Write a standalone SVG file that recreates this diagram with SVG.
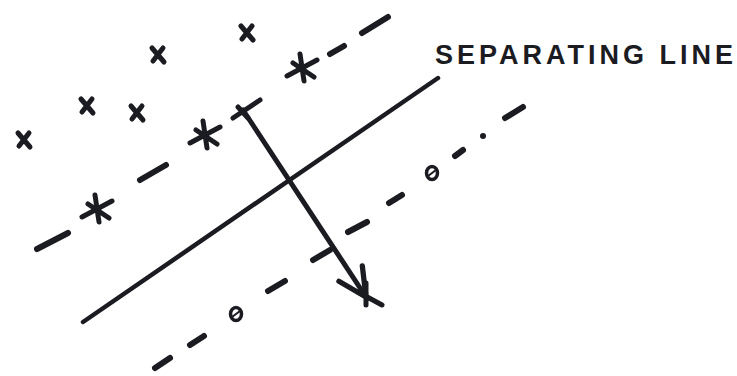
<svg xmlns="http://www.w3.org/2000/svg" width="737" height="376" viewBox="0 0 737 376">
<defs>
<style>
.ink{stroke:#1b1b22;fill:none;stroke-linecap:round;stroke-linejoin:round}
.dash{stroke-width:6}
.solid{stroke-width:4.5}
.arr{stroke-width:5}
.mk{stroke-width:5}
.ast{stroke-width:5}
.lbl{font-family:"Liberation Sans",Arial,sans-serif;font-weight:bold;font-size:27px;fill:#1b1b22}
</style>
<marker id="head" viewBox="0 0 20 20" refX="18" refY="10" markerWidth="7" markerHeight="7" markerUnits="strokeWidth" orient="auto">
<path d="M2,2 L18,10 L2,18" fill="none" stroke="#1b1b22" stroke-width="3" stroke-linecap="round" stroke-linejoin="round"/>
</marker>
<g id="xmark"><path class="ink mk" d="M-6,-7 L6,7 M5,-7 L-5,6"/></g>
<g id="star"><path class="ink ast" d="M-15,8 L15,-8 M-2,-14 L2,13 M-9,-5 L12,9"/></g>
</defs>
<rect width="737" height="376" fill="#ffffff"/>

<g id="separating-line"><path class="ink solid" d="M83,322 L438,78"/></g>

<g id="upper-margin">
<path class="ink dash" d="M37,249 L68,233 M140,180 L166,165 M330,54 L344,46 M362,33 L388,17"/>
</g>
<g id="lower-margin">
<path class="ink dash" d="M155,368 L170,358 M190,345 L204,336 M268,291 L285,281 M313,260 L330,250 M348,232 L367,222 M389,203 L402,195 M455,156 L463,150 M505,118 L523,107"/>
<circle cx="483" cy="136" r="3" fill="#1b1b22"/>
</g>

<g id="class-x">
<use href="#xmark" x="24" y="140"/>
<use href="#xmark" x="87" y="106"/>
<use href="#xmark" x="137" y="113"/>
<use href="#xmark" x="158" y="55"/>
<use href="#xmark" x="247" y="33"/>
</g>

<g id="support-stars">
<use href="#star" x="97" y="209"/>
<use href="#star" x="205" y="135"/>
<use href="#star" x="302" y="68"/>
<path class="ink ast" d="M233,118 L260,100 M238,107 L248,118"/>
</g>

<g id="class-o">
<ellipse class="ink" stroke-width="3.5" cx="236" cy="314" rx="5.5" ry="6.5"/>
<path class="ink" stroke-width="2" d="M232,317 L240,311"/>
<ellipse class="ink" stroke-width="3.5" cx="432" cy="173" rx="5.5" ry="6.5"/>
<path class="ink" stroke-width="2" d="M428,176 L436,170"/>
</g>

<g id="connectors">
<path class="ink arr" d="M243,110 L366,297" marker-end="url(#head)"/>
<path class="ink mk" d="M358,292 L382,305 M366,283 L366,305"/>
</g>

<g id="label">
<text class="lbl" x="435" y="64" textLength="298" lengthAdjust="spacing">SEPARATING LINE</text>
</g>
</svg>
